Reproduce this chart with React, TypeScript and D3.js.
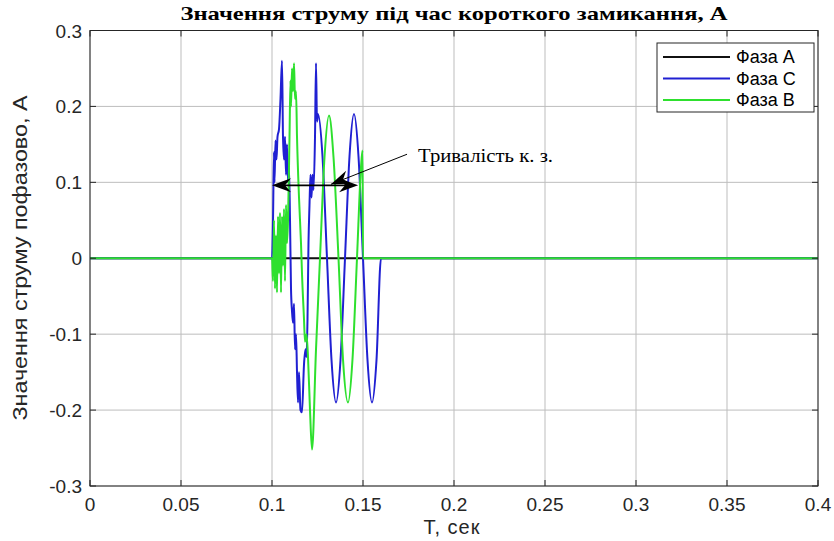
import { useEffect, useRef } from 'react'
import * as d3 from 'd3'

// струм по фазах під час короткого замикання (час у секундах, струм в А)
const phaseATime = [0, 0.4]
const phaseACurrent = [0, 0]

const phaseCTime = [
  0, 0.1, 0.10055, 0.1011, 0.10137, 0.10192, 0.10247, 0.10302, 0.10385, 0.10467, 0.1055,
  0.10604, 0.1066, 0.10714, 0.1077, 0.10824, 0.1088, 0.10934, 0.1099, 0.11044, 0.111,
  0.11154, 0.1121, 0.11264, 0.1132, 0.11374, 0.1143, 0.11484, 0.11566, 0.11648, 0.11758,
  0.11841, 0.11896, 0.11951, 0.12005, 0.1206, 0.12115, 0.1217, 0.12225, 0.1228, 0.12363,
  0.12418, 0.12472, 0.12527, 0.12775, 0.13022, 0.1327, 0.13517, 0.13764, 0.14011, 0.14258,
  0.14505, 0.14753, 0.15, 0.15247, 0.15495, 0.15742, 0.1599, 0.16, 0.4,
]
const phaseCCurrent = [
  0, 0, 0.05, 0.14, 0.1, 0.155, 0.13, 0.16, 0.17, 0.21, 0.26,
  0.16, 0.13, 0.16, 0.11, 0.15, 0.1, 0.12, 0.05, -0.04, -0.07,
  -0.085, -0.06, -0.12, -0.1, -0.15, -0.19, -0.15, -0.2, -0.203, -0.14,
  -0.12, -0.13, -0.08, 0.02, 0.07, 0.11, 0.08, 0.11, 0.09, 0.16,
  0.257, 0.18, 0.19, 0.134, 0, -0.134, -0.19, -0.134, 0, 0.134,
  0.19, 0.134, 0, -0.134, -0.19, -0.134, 0, 0, 0,
]

const phaseBTime = [
  0, 0.1, 0.10055, 0.1011, 0.10165, 0.1022, 0.10275, 0.1033, 0.10385, 0.1044, 0.10495,
  0.1055, 0.10604, 0.1066, 0.10714, 0.1077, 0.10824, 0.1088, 0.10962, 0.11016, 0.11044,
  0.111, 0.11154, 0.1121, 0.11264, 0.1132, 0.11374, 0.11484, 0.11593, 0.11648, 0.11758,
  0.11813, 0.11896, 0.11978, 0.12088, 0.12198, 0.12418, 0.12637, 0.12885, 0.13132, 0.1338,
  0.13654, 0.13901, 0.14176, 0.14423, 0.1467, 0.1489, 0.14973, 0.15, 0.1501, 0.4,
]
const phaseBCurrent = [
  0, 0, -0.03, 0.05, -0.04, 0.03, -0.045, 0.055, -0.02, 0.06, -0.045,
  0.055, -0.01, 0.065, -0.03, 0.07, 0.02, 0.05, 0.16, 0.234, 0.2,
  0.25, 0.22, 0.257, 0.21, 0.22, 0.16, 0.08, 0.02, -0.02, -0.08,
  -0.11, -0.1, -0.13, -0.2, -0.252, -0.12, 0, 0.133, 0.188, 0.133,
  0, -0.133, -0.19, -0.133, 0, 0.12, 0.142, 0, 0, 0,
]

const xTicks = [0, 0.05, 0.1, 0.15, 0.2, 0.25, 0.3, 0.35, 0.4]
const xTickLabels = ['0', '0.05', '0.1', '0.15', '0.2', '0.25', '0.3', '0.35', '0.4']
const yTicks = [-0.3, -0.2, -0.1, 0, 0.1, 0.2, 0.3]
const yTickLabels = ['-0.3', '-0.2', '-0.1', '0', '0.1', '0.2', '0.3']

const seriesNames = ['Фаза А', 'Фаза С', 'Фаза В']
const seriesColors = ['#111111', '#2020d2', '#2ee02e']

// тривалість к.з.: стрілка з двома вістрями та виноска
const durationSpan = [0.1, 0.1473]
const durationLevel = 0.096
const calloutFrom = [0.1742, 0.137]
const calloutTo = [0.1324, 0.0974]
const calloutText = 'Тривалість к. з.'

const W = 834
const H = 541

export default function App() {
  const ref = useRef<SVGSVGElement>(null)

  useEffect(() => {
    const svg = d3.select(ref.current)
    svg.selectAll('*').remove()

    const x = d3.scaleLinear().domain([0, 0.4]).range([90, 818])
    const y = d3.scaleLinear().domain([-0.3, 0.3]).range([486, 30.5])
    const axisColor = '#262626'

    svg.append('rect').attr('width', W).attr('height', H).attr('fill', '#fff')

    // сітка
    const grid = svg.append('g').attr('stroke', '#bdbdbd').attr('stroke-width', 1)
    xTicks.forEach((t) => {
      grid.append('line').attr('x1', x(t)).attr('x2', x(t)).attr('y1', y(-0.3)).attr('y2', y(0.3))
    })
    yTicks.forEach((v) => {
      grid.append('line').attr('x1', x(0)).attr('x2', x(0.4)).attr('y1', y(v)).attr('y2', y(v))
    })

    // криві
    const series = [
      { t: phaseATime, v: phaseACurrent },
      { t: phaseCTime, v: phaseCCurrent },
      { t: phaseBTime, v: phaseBCurrent },
    ]
    const line = d3
      .line<[number, number]>()
      .x((d) => x(d[0]))
      .y((d) => y(d[1]))
      .curve(d3.curveMonotoneX)
    series.forEach((s, i) => {
      const pts = s.t.map((t, k) => [t, s.v[k]] as [number, number])
      svg
        .append('path')
        .attr('d', line(pts))
        .attr('fill', 'none')
        .attr('stroke', seriesColors[i])
        .attr('stroke-width', 2)
        .attr('stroke-linejoin', 'round')
    })

    // рамка та поділки
    const ax = svg.append('g').attr('stroke', axisColor).attr('stroke-width', 1)
    ax.append('rect')
      .attr('x', x(0))
      .attr('y', y(0.3))
      .attr('width', x(0.4) - x(0))
      .attr('height', y(-0.3) - y(0.3))
      .attr('fill', 'none')
    xTicks.forEach((t) => {
      ax.append('line').attr('x1', x(t)).attr('x2', x(t)).attr('y1', y(-0.3)).attr('y2', y(-0.3) - 6)
      ax.append('line').attr('x1', x(t)).attr('x2', x(t)).attr('y1', y(0.3)).attr('y2', y(0.3) + 6)
    })
    yTicks.forEach((v) => {
      ax.append('line').attr('x1', x(0)).attr('x2', x(0) + 6).attr('y1', y(v)).attr('y2', y(v))
      ax.append('line').attr('x1', x(0.4)).attr('x2', x(0.4) - 6).attr('y1', y(v)).attr('y2', y(v))
    })

    const sans = 'Liberation Sans, Arial, sans-serif'
    const serif = 'Liberation Serif, Times New Roman, serif'

    svg
      .append('g')
      .selectAll('text')
      .data(xTicks)
      .enter()
      .append('text')
      .attr('x', (d) => x(d))
      .attr('y', y(-0.3) + 25)
      .attr('text-anchor', 'middle')
      .attr('font-family', sans)
      .attr('font-size', 19)
      .attr('fill', axisColor)
      .text((d, i) => xTickLabels[i])

    svg
      .append('g')
      .selectAll('text')
      .data(yTicks)
      .enter()
      .append('text')
      .attr('x', x(0) - 8)
      .attr('y', (d) => y(d) + 7)
      .attr('text-anchor', 'end')
      .attr('font-family', sans)
      .attr('font-size', 19)
      .attr('fill', axisColor)
      .text((d, i) => yTickLabels[i])

    svg
      .append('text')
      .attr('x', 454)
      .attr('y', 20)
      .attr('text-anchor', 'middle')
      .attr('font-family', serif)
      .attr('font-weight', 'bold')
      .attr('font-size', 19)
      .attr('textLength', 547)
      .attr('lengthAdjust', 'spacingAndGlyphs')
      .attr('fill', '#000')
      .text('Значення струму під час короткого замикання, А')

    svg
      .append('text')
      .attr('x', 452)
      .attr('y', 534)
      .attr('text-anchor', 'middle')
      .attr('font-family', sans)
      .attr('font-size', 20)
      .attr('letter-spacing', 1)
      .attr('fill', axisColor)
      .text('T, сек')

    svg
      .append('text')
      .attr('transform', `translate(27,258) rotate(-90)`)
      .attr('text-anchor', 'middle')
      .attr('font-family', sans)
      .attr('font-size', 20)
      .attr('textLength', 325)
      .attr('lengthAdjust', 'spacingAndGlyphs')
      .attr('fill', axisColor)
      .text('Значення струму пофазово, А')

    // стрілки
    const head = (tipX: number, tipY: number, angle: number) => {
      const L = 19
      const hw = 7
      const notch = 13
      const pts: [number, number][] = [
        [0, 0],
        [-L, -hw],
        [-notch, 0],
        [-L, hw],
      ]
      const c = Math.cos(angle)
      const s = Math.sin(angle)
      const p = d3.path()
      pts.forEach(([px, py], i) => {
        const X = tipX + px * c - py * s
        const Y = tipY + px * s + py * c
        if (i === 0) p.moveTo(X, Y)
        else p.lineTo(X, Y)
      })
      p.closePath()
      svg.append('path').attr('d', p.toString()).attr('fill', '#000')
    }

    const ay = y(durationLevel)
    svg
      .append('line')
      .attr('x1', x(durationSpan[0]) + 6)
      .attr('x2', x(durationSpan[1]) - 6)
      .attr('y1', ay)
      .attr('y2', ay)
      .attr('stroke', '#000')
      .attr('stroke-width', 1.6)
    head(x(durationSpan[0]), ay, Math.PI)
    head(x(durationSpan[1]), ay, 0)

    const fx = x(calloutFrom[0])
    const fy = y(calloutFrom[1])
    const tx = x(calloutTo[0])
    const ty = y(calloutTo[1])
    svg
      .append('line')
      .attr('x1', fx)
      .attr('y1', fy)
      .attr('x2', tx)
      .attr('y2', ty)
      .attr('stroke', '#000')
      .attr('stroke-width', 1)
    head(tx, ty, Math.atan2(ty - fy, tx - fx))

    svg
      .append('text')
      .attr('x', fx + 11)
      .attr('y', fy + 8)
      .attr('font-family', serif)
      .attr('font-size', 19)
      .attr('textLength', 135)
      .attr('lengthAdjust', 'spacingAndGlyphs')
      .attr('fill', '#000')
      .text(calloutText)

    // легенда
    const lg = svg.append('g')
    lg.append('rect')
      .attr('x', 657)
      .attr('y', 43)
      .attr('width', 157)
      .attr('height', 69)
      .attr('fill', '#fff')
      .attr('stroke', axisColor)
      .attr('stroke-width', 1)
    seriesNames.forEach((name, i) => {
      const ry = 57 + i * 21.5
      lg.append('line')
        .attr('x1', 663)
        .attr('x2', 730)
        .attr('y1', ry)
        .attr('y2', ry)
        .attr('stroke', seriesColors[i])
        .attr('stroke-width', 2)
      lg.append('text')
        .attr('x', 736)
        .attr('y', ry + 6)
        .attr('font-family', sans)
        .attr('font-size', 18)
        .attr('fill', '#000')
        .text(name)
    })
  }, [])

  return <svg ref={ref} width={W} height={H} style={{ position: 'absolute', left: 0, top: 0 }} />
}
